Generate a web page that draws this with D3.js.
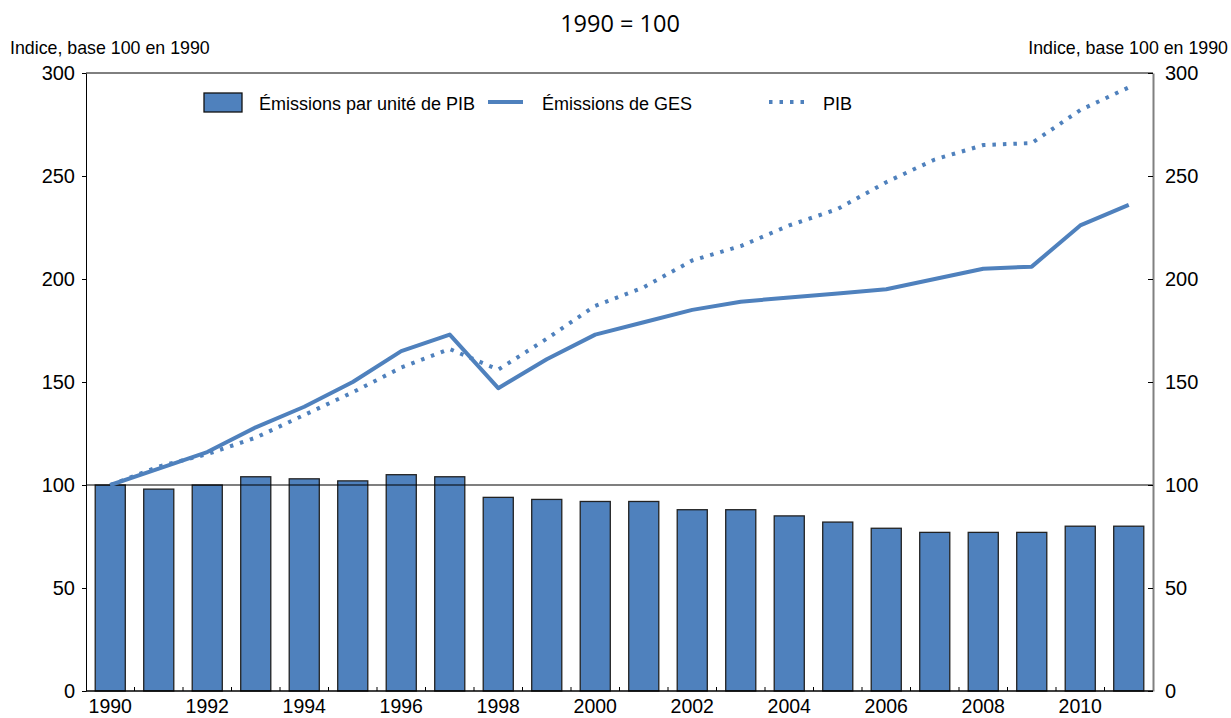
<!DOCTYPE html>
<html>
<head>
<meta charset="utf-8">
<script src="https://cdn.jsdelivr.net/npm/d3@7"></script>
<style>
  body { margin: 0; background: #fff; }
  svg { display: block; font-family: "Liberation Sans", Arial, sans-serif; }
</style>
</head>
<body>
<svg id="chart"></svg>
<script>
// data
var years = d3.range(1990, 2012);
var intensite = [100, 98, 100, 104, 103, 102, 105, 104, 94, 93, 92, 92, 88, 88, 85, 82, 79, 77, 77, 77, 80, 80];
var ges = [100, 108, 116, 128, 138, 150, 165, 173, 147, 161, 173, 179, 185, 189, 191, 193, 195, 200, 205, 206, 226, 236];
var pib = [100, 109, 115, 123, 134, 145, 157, 166, 156, 171, 187, 196, 209, 216, 226, 234, 247, 258, 265, 266, 282, 293];
var yTicks = [0, 50, 100, 150, 200, 250, 300];
var xLabels = years.filter(function(y) { return y % 2 === 0; });

var width = 1231, height = 718;
var marginLeft = 86, marginRight = 78, marginTop = 73, marginBottom = 27;
var blue = "#4f81bd";

var svg = d3.select("#chart")
    .attr("width", width)
    .attr("height", height);

var x = d3.scaleBand(years, [marginLeft, width - marginRight]).padding(0);
var y = d3.scaleLinear([0, 300], [height - marginBottom, marginTop]);
var barW = x.bandwidth() * 0.62;
var cx = function(yr) { return x(yr) + x.bandwidth() / 2; };

// title + axis captions
svg.append("text")
    .attr("x", 620).attr("y", 32)
    .attr("text-anchor", "middle")
    .attr("font-family", "'Open Sans', 'Noto Sans', sans-serif")
    .attr("font-size", 23.5)
    .text("1990 = 100");
svg.append("text")
    .attr("x", 10).attr("y", 54)
    .attr("font-size", 17.8)
    .text("Indice, base 100 en 1990");
svg.append("text")
    .attr("x", 1228).attr("y", 54)
    .attr("text-anchor", "end")
    .attr("font-size", 17.8)
    .text("Indice, base 100 en 1990");

// bars
svg.append("g")
  .selectAll("rect")
  .data(years)
  .join("rect")
    .attr("x", function(d) { return cx(d) - barW / 2; })
    .attr("width", barW)
    .attr("y", function(d, i) { return y(intensite[i]); })
    .attr("height", function(d, i) { return y(0) - y(intensite[i]); })
    .attr("fill", blue)
    .attr("stroke", "#222")
    .attr("stroke-width", 1.3);

// reference line at 100
svg.append("line")
    .attr("x1", marginLeft).attr("x2", width - marginRight)
    .attr("y1", y(100)).attr("y2", y(100))
    .attr("stroke", "#000").attr("stroke-width", 1.2);

// lines
var line = d3.line()
    .x(function(d, i) { return cx(years[i]); })
    .y(function(d) { return y(d); });

svg.append("path")
    .attr("fill", "none")
    .attr("stroke", blue)
    .attr("stroke-width", 4)
    .attr("stroke-dasharray", "3.5,7")
    .attr("d", line(pib));

svg.append("path")
    .attr("fill", "none")
    .attr("stroke", blue)
    .attr("stroke-width", 4)
    .attr("stroke-linejoin", "round")
    .attr("d", line(ges));

// left axis
svg.append("g")
    .attr("transform", "translate(" + marginLeft + ",0)")
    .call(d3.axisLeft(y).tickValues(yTicks).tickSize(4).tickPadding(7).tickSizeOuter(0))
    .call(function(g) { g.selectAll("text").attr("font-size", 20).attr("fill", "#000"); })
    .call(function(g) { g.select(".domain").attr("stroke", "#000"); });

// right axis (gray, ticks inward)
svg.append("g")
    .attr("transform", "translate(" + (width - marginRight) + ",0)")
    .call(d3.axisRight(y).tickValues(yTicks).tickSize(-5).tickPadding(12).tickSizeOuter(0))
    .call(function(g) { g.selectAll("text").attr("font-size", 20).attr("fill", "#000"); })
    .call(function(g) { g.select(".domain").attr("stroke", "#808080").attr("stroke-width", 2); })
    .call(function(g) { g.selectAll(".tick line").attr("stroke", "#000"); });

// top border
svg.append("line")
    .attr("x1", marginLeft).attr("x2", width - marginRight)
    .attr("y1", marginTop).attr("y2", marginTop)
    .attr("stroke", "#000").attr("stroke-width", 1);

// bottom axis: ticks between bands pointing up, labels on even years
var xb = svg.append("g");
xb.append("line")
    .attr("x1", marginLeft).attr("x2", width - marginRight)
    .attr("y1", y(0)).attr("y2", y(0))
    .attr("stroke", "#000").attr("stroke-width", 1.3);
xb.selectAll(".tk")
  .data(years.slice(1))
  .join("line")
    .attr("class", "tk")
    .attr("x1", function(d) { return x(d); })
    .attr("x2", function(d) { return x(d); })
    .attr("y1", y(0)).attr("y2", y(0) - 4)
    .attr("stroke", "#000");
xb.selectAll("text")
  .data(xLabels)
  .join("text")
    .attr("x", function(d) { return cx(d); })
    .attr("y", 713)
    .attr("text-anchor", "middle")
    .attr("font-size", 19.5)
    .text(function(d) { return d; });

// legend
var lg = svg.append("g").attr("font-size", 18);
lg.append("rect")
    .attr("x", 204).attr("y", 93).attr("width", 38).attr("height", 19)
    .attr("fill", blue).attr("stroke", "#111").attr("stroke-width", 1.3);
lg.append("text").attr("x", 259).attr("y", 110).text("Émissions par unité de PIB");
lg.append("line")
    .attr("x1", 488).attr("x2", 523).attr("y1", 102).attr("y2", 102)
    .attr("stroke", blue).attr("stroke-width", 4);
lg.append("text").attr("x", 542).attr("y", 110).text("Émissions de GES");
lg.append("line")
    .attr("x1", 769).attr("x2", 806).attr("y1", 102).attr("y2", 102)
    .attr("stroke", blue).attr("stroke-width", 4).attr("stroke-dasharray", "3.5,7");
lg.append("text").attr("x", 823).attr("y", 110).text("PIB");
</script>
</body>
</html>
